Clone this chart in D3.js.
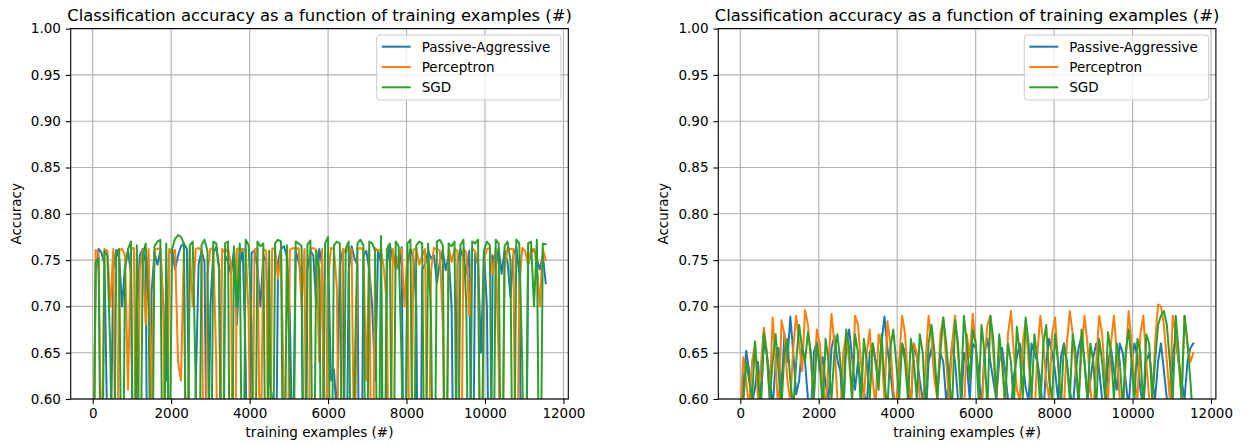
<!DOCTYPE html>
<html><head><meta charset="utf-8">
<script src="https://cdn.jsdelivr.net/npm/d3@7"></script>
<style>body{margin:0;background:#fff}svg{display:block}text{font-family:"DejaVu Sans",sans-serif;fill:#000}</style>
</head><body><svg id="c" width="1248" height="445"></svg>
<script>
// training examples (#) at which accuracy was measured
const trainingExamples = [0,75,150,225,300,375,450,525,600,675,750,825,900,975,1050,1125,1200,1275,1350,1425,1500,1575,1650,1725,1800,1875,1950,2025,2100,2175,2250,2325,2400,2475,2550,2625,2700,2775,2850,2925,3000,3075,3150,3225,3300,3375,3450,3525,3600,3675,3750,3825,3900,3975,4050,4125,4200,4275,4350,4425,4500,4575,4650,4725,4800,4875,4950,5025,5100,5175,5250,5325,5400,5475,5550,5625,5700,5775,5850,5925,6000,6075,6150,6225,6300,6375,6450,6525,6600,6675,6750,6825,6900,6975,7050,7125,7200,7275,7350,7425,7500,7575,7650,7725,7800,7875,7950,8025,8100,8175,8250,8325,8400,8475,8550,8625,8700,8775,8850,8925,9000,9075,9150,9225,9300,9375,9450,9525,9600,9675,9750,9825,9900,9975,10050,10125,10200,10275,10350,10425,10500,10575,10650,10725,10800,10875,10950,11025,11100,11175,11250,11325,11400,11475,11550];
const seriesNames = ["Passive-Aggressive","Perceptron","SGD"];
const seriesColors = ["#1f77b4","#ff7f0e","#2ca02c"];
const yTicks = [0.60,0.65,0.70,0.75,0.80,0.85,0.90,0.95,1.00];
const xTicks = [0,2000,4000,6000,8000,10000,12000];
// accuracy in per-mille (left chart)
const leftPA = [
430,735,762,758,745,560,520,740,761,752,
700,745,760,735,400,690,755,762,748,300,
715,758,745,760,700,620,757,762,740,755,
765,768,762,520,430,610,745,760,748,450,
700,758,764,740,300,755,748,735,760,680,
745,762,640,350,758,760,742,700,755,748,
625,600,400,748,762,765,754,690,520,760,
748,735,300,740,760,755,700,762,745,430,
758,620,632,580,745,760,400,738,765,752,
745,300,755,760,740,700,620,760,748,300,
745,767,750,755,740,764,400,746,762,753,
700,300,740,745,760,752,755,725,748,760,
739,755,700,400,745,762,752,735,760,400,
757,745,650,760,700,400,755,742,763,735,
760,748,710,755,764,736,400,350,745,758,
762,750,740,755,725];
const leftPerc = [
400,761,758,500,762,760,700,762,400,761,
762,755,610,762,763,400,740,761,680,762,
600,761,762,763,700,400,762,758,761,640,
620,763,400,762,700,762,763,760,400,735,
762,763,640,400,762,758,763,745,300,762,
763,760,762,690,400,761,763,500,762,760,
400,762,763,730,762,600,400,761,763,762,
763,700,762,300,762,763,761,640,762,400,
730,763,762,720,400,762,758,763,762,500,
762,763,761,620,762,400,763,760,762,740,
700,400,762,740,755,762,700,760,400,761,
763,745,755,762,400,738,763,762,760,680,
400,763,748,762,760,400,762,758,690,762,
760,745,400,750,762,763,735,762,640,400,
740,763,762,762,400,720,763,760,745,762,
762,745,700,762,750];
const leftSGD = [
400,748,752,400,760,755,650,400,758,762,
400,740,762,770,400,766,400,755,768,700,
400,765,770,772,400,768,500,762,773,777,
775,768,400,766,770,620,400,766,772,760,
400,770,768,740,400,768,770,300,765,700,
768,400,772,766,680,400,770,765,768,400,
760,400,768,772,770,400,766,620,400,770,
768,765,400,767,771,400,760,740,400,768,
775,400,766,770,768,400,762,770,400,620,
768,772,766,400,770,768,760,400,776,400,
762,768,400,770,765,640,400,768,772,400,
766,770,768,400,768,690,400,770,772,766,
400,768,765,770,400,766,772,700,400,770,
768,772,400,760,770,766,400,772,768,400,
765,770,750,400,772,768,640,400,768,770,
700,772,400,768,767];
// accuracy in per-mille (right chart)
const rightPA = [
560,615,652,630,595,612,640,600,660,648,
625,590,640,655,610,670,640,689,650,605,
620,658,640,600,585,650,662,630,645,615,
600,655,668,642,630,580,660,675,645,610,
640,616,608,592,650,660,640,620,660,689,
655,630,600,580,640,660,650,612,590,660,
645,620,600,575,640,655,630,610,650,640,
598,620,660,640,600,585,650,636,600,660,
655,630,590,650,665,640,620,600,640,655,
630,600,590,625,645,660,640,612,598,660,
650,640,620,580,640,665,650,630,600,645,
660,640,610,590,630,655,668,640,600,620,
645,660,630,600,585,640,655,630,610,660,
650,620,590,640,660,645,610,590,640,650,
620,600,640,660,630,600,580,650,665,640,
620,600,640,655,660];
const rightPerc = [
580,645,620,590,640,660,600,635,677,650,
600,688,640,580,685,670,620,598,655,690,
660,630,696,680,640,600,675,660,620,590,
640,692,660,600,580,650,670,640,600,690,
680,640,600,650,675,620,592,670,655,600,
684,660,610,590,640,690,670,620,598,660,
650,600,580,640,690,665,620,600,670,688,
640,598,660,690,650,600,580,670,645,692,
660,610,585,640,680,690,650,600,660,640,
590,670,695,650,610,598,660,685,640,600,
580,650,690,660,620,600,670,688,640,600,
590,660,695,670,630,600,650,690,660,610,
585,640,690,670,620,600,660,690,650,600,
580,640,695,660,620,600,670,690,640,600,
590,660,702,700,680,640,600,690,670,640,
600,690,660,640,650];
const rightSGD = [
570,595,640,620,600,662,620,590,672,650,
600,640,670,630,592,650,665,620,590,640,
680,655,640,672,650,600,660,640,590,665,
640,600,650,670,640,590,675,655,600,670,
650,590,665,640,600,660,640,610,670,620,
588,655,675,640,600,660,640,600,665,640,
600,670,650,590,660,680,650,600,650,688,
660,620,590,685,660,600,690,660,620,675,
660,600,680,650,590,690,665,600,670,640,
600,660,640,590,678,650,600,688,660,600,
670,640,590,660,680,620,600,670,640,590,
660,640,600,670,650,590,675,640,600,660,
640,590,665,640,600,672,650,600,660,640,
590,650,675,640,600,665,650,590,670,660,
600,640,680,690,695,680,640,600,690,650,
600,690,660,620,570];

const charts = [
  {left:70.7, series:[leftPA,leftPerc,leftSGD]},
  {left:718.3, series:[rightPA,rightPerc,rightSGD]}
];
const W = 497.6, topY = 28.6, H = 370.4;
const svg = d3.select("#c");
const fs = 13.5;

charts.forEach((ch, ci) => {
  const g = svg.append("g").attr("transform", `translate(${ch.left},${topY})`);
  const xs = d3.scaleLinear().domain([-561, 12125]).range([0, W]);
  const ys = d3.scaleLinear().domain([0.6, 1.0]).range([H, 0]);
  const cid = "clip" + ci;
  g.append("clipPath").attr("id", cid).append("rect").attr("width", W).attr("height", H);
  // grid
  g.append("g").selectAll("line").data(xTicks).join("line")
    .attr("x1", d => xs(d)).attr("x2", d => xs(d)).attr("y1", 0).attr("y2", H)
    .attr("stroke", "#b0b0b0").attr("stroke-width", 1.1);
  g.append("g").selectAll("line").data(yTicks).join("line")
    .attr("y1", d => ys(d)).attr("y2", d => ys(d)).attr("x1", 0).attr("x2", W)
    .attr("stroke", "#b0b0b0").attr("stroke-width", 1.1);
  // lines
  const line = d3.line().defined((d, i) => i < trainingExamples.length)
    .x((d, i) => xs(trainingExamples[i])).y(d => ys(d / 1000));
  const lg = g.append("g").attr("clip-path", `url(#${cid})`);
  ch.series.forEach((s, si) => {
    lg.append("path").attr("d", line(s)).attr("fill", "none")
      .attr("stroke", seriesColors[si]).attr("stroke-width", 2).attr("stroke-linejoin", "round").attr("stroke-linecap", "square");
  });
  // axes
  const xa = g.append("g").attr("transform", `translate(0,${H})`)
    .call(d3.axisBottom(xs).tickValues(xTicks).tickSize(4.9).tickPadding(4.9).tickFormat(d3.format("d")));
  const ya = g.append("g")
    .call(d3.axisLeft(ys).tickValues(yTicks).tickSize(4.9).tickPadding(4.9).tickFormat(d3.format(".2f")));
  [xa, ya].forEach(a => {
    a.select(".domain").remove();
    a.selectAll("line").attr("stroke", "#000").attr("stroke-width", 1.1);
    a.selectAll("text").attr("font-size", fs).attr("font-family", "DejaVu Sans").attr("fill", "#000");
  });
  g.append("rect").attr("width", W).attr("height", H).attr("fill", "none").attr("stroke", "#000").attr("stroke-width", 1.1);
  // labels
  g.append("text").attr("x", W / 2).attr("y", -8).attr("text-anchor", "middle").attr("font-size", 16.4)
    .text("Classification accuracy as a function of training examples (#)");
  g.append("text").attr("x", W / 2).attr("y", H + 38).attr("text-anchor", "middle").attr("font-size", fs)
    .text("training examples (#)");
  g.append("text").attr("transform", `translate(-50,${H / 2}) rotate(-90)`).attr("text-anchor", "middle").attr("font-size", fs)
    .text("Accuracy");
  // legend
  const leg = g.append("g").attr("transform", `translate(306,6.4)`);
  leg.append("rect").attr("width", 184.3).attr("height", 65).attr("rx", 3).attr("fill", "#fff").attr("fill-opacity", 0.8)
    .attr("stroke", "#cccccc").attr("stroke-width", 1);
  seriesNames.forEach((n, i) => {
    const yy = 11.7 + i * 20.3;
    leg.append("line").attr("x1", 5).attr("x2", 34).attr("y1", yy).attr("y2", yy)
      .attr("stroke", seriesColors[i]).attr("stroke-width", 2);
    leg.append("text").attr("x", 45).attr("y", yy).attr("dy", "0.36em").attr("font-size", fs).text(n);
  });
});
</script></body></html>
